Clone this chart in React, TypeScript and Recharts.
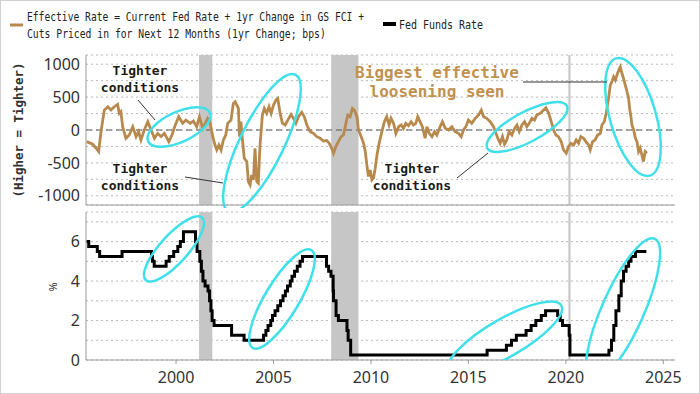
import React from "react";
import {
  LineChart,
  Line,
  XAxis,
  YAxis,
  CartesianGrid,
  ReferenceArea,
  ReferenceLine,
} from "recharts";

// Effective rate (bps)
const effYears = [
  1995.42, 1995.72, 1995.9, 1996.03, 1996.15, 1996.32, 1996.5, 1996.66, 1996.83, 1997.0,
  1997.09, 1997.17, 1997.26, 1997.43, 1997.6, 1997.78, 1997.95, 1998.08, 1998.2, 1998.37,
  1998.55, 1998.72, 1998.89, 1999.06, 1999.23, 1999.4, 1999.63, 1999.79, 1999.96, 2000.14,
  2000.34, 2000.51, 2000.72, 2000.89, 2001.06, 2001.2, 2001.37, 2001.54, 2001.62, 2001.72,
  2001.83, 2001.97, 2002.09, 2002.2, 2002.31, 2002.43, 2002.55, 2002.65, 2002.82, 2002.94,
  2003.03, 2003.12, 2003.2, 2003.25, 2003.33, 2003.4, 2003.5, 2003.63, 2003.71, 2003.8,
  2003.88, 2003.97, 2004.05, 2004.14, 2004.22, 2004.31, 2004.43, 2004.53, 2004.65, 2004.77,
  2004.88, 2005.0, 2005.12, 2005.22, 2005.34, 2005.46, 2005.6, 2005.73, 2005.9, 2006.02,
  2006.15, 2006.28, 2006.45, 2006.58, 2006.71, 2006.88, 2007.05, 2007.22, 2007.39, 2007.56,
  2007.73, 2007.85, 2007.99, 2008.08, 2008.2, 2008.33, 2008.47, 2008.59, 2008.68, 2008.81,
  2008.93, 2009.05, 2009.15, 2009.28, 2009.36, 2009.5, 2009.62, 2009.71, 2009.79, 2009.87,
  2009.96, 2010.05, 2010.13, 2010.22, 2010.31, 2010.42, 2010.56, 2010.69, 2010.81, 2010.93,
  2011.03, 2011.16, 2011.28, 2011.42, 2011.55, 2011.67, 2011.79, 2011.93, 2012.06, 2012.18,
  2012.3, 2012.4, 2012.52, 2012.64, 2012.78, 2012.87, 2012.99, 2013.13, 2013.26, 2013.38,
  2013.55, 2013.67, 2013.81, 2013.98, 2014.15, 2014.32, 2014.49, 2014.63, 2014.75, 2014.87,
  2015.0, 2015.17, 2015.35, 2015.52, 2015.66, 2015.78, 2015.94, 2016.12, 2016.29, 2016.41,
  2016.51, 2016.63, 2016.75, 2016.85, 2016.97, 2017.09, 2017.23, 2017.37, 2017.49, 2017.61,
  2017.75, 2017.88, 2018.0, 2018.12, 2018.26, 2018.39, 2018.51, 2018.69, 2018.86, 2018.98,
  2019.12, 2019.25, 2019.37, 2019.49, 2019.62, 2019.76, 2019.88, 2020.02, 2020.14, 2020.26,
  2020.4, 2020.53, 2020.65, 2020.77, 2020.91, 2021.05, 2021.17, 2021.25, 2021.37, 2021.5,
  2021.63, 2021.77, 2021.85, 2021.97, 2022.07, 2022.19, 2022.28, 2022.36, 2022.45, 2022.54,
  2022.62, 2022.71, 2022.79, 2022.88, 2022.96, 2023.05, 2023.14, 2023.22, 2023.27, 2023.34,
  2023.39, 2023.48, 2023.57, 2023.65, 2023.73, 2023.81, 2023.9, 2023.98, 2024.07, 2024.16,
];
const effValues = [
  -177, -217, -277, -328, -25, 303, 354, 303, 354, 389,
  253, 278, 51, -126, -76, 51, -101, -25, -152, 0,
  126, 0, -126, -51, -101, -51, -177, -76, 76, 202,
  101, 151, 101, 136, 51, 202, 25, 126, 177, 140,
  -25, -202, -303, -227, -303, -152, -76, 101, 151, 404,
  429, 379, 328, -101, 126, -126, -429, -480, -783, -833,
  -682, -758, -277, -783, -808, -227, 227, 328, 253, 354,
  253, 379, 455, 480, 253, 101, 76, 151, 237, 177,
  101, 202, 268, 202, 76, -25, -51, -101, -126, -167,
  -160, -200, -277, -353, -252, -177, -101, -76, 51, 227,
  202, 328, 303, 202, 0, -101, -202, -328, -530, -707,
  -606, -758, -732, -580, -379, -202, -25, 126, 202, 76,
  177, 101, -51, 51, 76, 25, 101, 65, 126, 76,
  101, 202, 126, 51, -126, 51, -51, -101, -25, -76,
  51, 126, 25, 0, 51, -25, -51, -101, 0, 51,
  151, 101, 177, 227, 303, 202, 177, 126, 51, -51,
  -126, -202, -101, -217, -152, -25, -76, 25, 76, -25,
  76, 126, 51, 101, 177, 151, 227, 253, 303, 338,
  253, 126, 0, -76, -101, -177, -303, -353, -252, -202,
  -227, -152, -202, -101, -126, -187, -227, -303, -177, -152,
  -76, -51, 76, 126, 253, 480, 682, 732, 808, 758,
  833, 909, 959, 859, 783, 682, 581, 480, 328, 202,
  76, 0, -126, -177, -328, -277, -379, -480, -328, -353,
];

// Fed funds target (upper bound, %), change dates
const fedYears = [
  1995.4, 1995.52, 1995.96, 1996.08, 1997.23, 1998.74, 1998.79, 1998.88, 1999.49, 1999.65,
  1999.88, 2000.09, 2000.22, 2000.38, 2001.0, 2001.08, 2001.22, 2001.3, 2001.38, 2001.49,
  2001.64, 2001.72, 2001.79, 2001.85, 2001.95, 2002.85, 2003.49, 2004.49, 2004.61, 2004.72,
  2004.86, 2004.95, 2005.08, 2005.22, 2005.36, 2005.49, 2005.61, 2005.72, 2005.86, 2005.95,
  2006.08, 2006.22, 2006.36, 2006.49, 2007.72, 2007.83, 2007.95, 2008.06, 2008.08, 2008.21,
  2008.33, 2008.77, 2008.83, 2008.96, 2015.96, 2016.95, 2017.21, 2017.46, 2017.96, 2018.22,
  2018.46, 2018.74, 2018.96, 2019.58, 2019.71, 2019.83, 2020.17, 2020.21, 2022.21, 2022.34,
  2022.46, 2022.57, 2022.72, 2022.84, 2022.96, 2023.09, 2023.22, 2023.34, 2023.57, 2024.13,
];
const fedRates = [
  6.0, 5.75, 5.5, 5.25, 5.5, 5.25, 5.0, 4.75, 5.0, 5.25,
  5.5, 5.75, 6.0, 6.5, 6.0, 5.5, 5.0, 4.5, 4.0, 3.75,
  3.5, 3.0, 2.5, 2.0, 1.75, 1.25, 1.0, 1.25, 1.5, 1.75,
  2.0, 2.25, 2.5, 2.75, 3.0, 3.25, 3.5, 3.75, 4.0, 4.25,
  4.5, 4.75, 5.0, 5.25, 4.75, 4.5, 4.25, 3.5, 3.0, 2.25,
  2.0, 1.5, 1.0, 0.25, 0.5, 0.75, 1.0, 1.25, 1.5, 1.75,
  2.0, 2.25, 2.5, 2.25, 2.0, 1.75, 1.25, 0.25, 0.5, 1.0,
  1.75, 2.5, 3.25, 4.0, 4.5, 4.75, 5.0, 5.25, 5.5, 5.5,
];

const recessionStarts = [2001.18, 2007.96, 2020.13];
const recessionEnds = [2001.86, 2009.36, 2020.24];
const xTicks = [2000, 2005, 2010, 2015, 2020, 2025];
const effTicks = [-1000, -750, -500, -250, 0, 250, 500, 750, 1000];
const fedTicks = [0, 1, 2, 3, 4, 5, 6, 7];

const effData = effYears.map((year, i) => ({ year, value: effValues[i] }));
const fedData = fedYears.map((year, i) => ({ year, rate: fedRates[i] }));

const X_DOMAIN: [number, number] = [1995.38, 2025.6];
const BROWN = "#b8894d";
const CYAN = "#3fe0ea";
const AXIS = "#9a9a9a";
const tickStyle = { fontSize: 16, fill: "#333", fontFamily: "Noto Sans" };
const mono = "DejaVu Sans Mono";

const Recessions = () =>
  recessionStarts.map((s, i) => (
    <ReferenceArea
      key={i}
      x1={s}
      x2={recessionEnds[i]}
      fill="#c6c6c6"
      fillOpacity={1}
      stroke="none"
    />
  ));

export default function App() {
  return (
    <div
      style={{
        position: "absolute",
        left: 0,
        top: 0,
        width: 700,
        height: 394,
        background: "#fff",
        overflow: "hidden",
      }}
    >
      {/* upper panel */}
      <div style={{ position: "absolute", left: 0, top: 0 }}>
        <LineChart
          width={700}
          height={210}
          data={effData}
          margin={{ top: 55, right: 25, bottom: 0, left: 0 }}
        >
          <CartesianGrid vertical={false} stroke="#b8b8b8" strokeDasharray="2 3" />
          {Recessions()}
          <ReferenceLine y={0} stroke="#555" strokeDasharray="6 4" />
          <XAxis
            dataKey="year"
            type="number"
            domain={X_DOMAIN}
            allowDataOverflow
            ticks={xTicks}
            tick={false}
            tickLine={false}
            height={5}
            axisLine={{ stroke: AXIS }}
          />
          <YAxis
            type="number"
            domain={[-1140, 1140]}
            ticks={effTicks}
            interval={0}
            tickFormatter={(v: number) => (v % 500 === 0 ? String(v) : "")}
            width={86}
            tickLine={false}
            tickSize={0}
            tickMargin={6}
            axisLine={{ stroke: AXIS }}
            tick={tickStyle}
          />
          <Line
            type="linear"
            dataKey="value"
            stroke={BROWN}
            strokeWidth={2.8}
            dot={false}
            isAnimationActive={false}
          />
        </LineChart>
      </div>

      {/* lower panel */}
      <div style={{ position: "absolute", left: 0, top: 205 }}>
        <LineChart
          width={700}
          height={189}
          data={fedData}
          margin={{ top: 7, right: 25, bottom: 0, left: 0 }}
        >
          <CartesianGrid vertical={false} stroke="#b8b8b8" strokeDasharray="2 3" />
          {Recessions()}
          <XAxis
            dataKey="year"
            type="number"
            domain={X_DOMAIN}
            allowDataOverflow
            ticks={xTicks}
            interval={0}
            height={34}
            tickSize={4}
            tickMargin={8}
            axisLine={{ stroke: AXIS }}
            tickLine={{ stroke: AXIS }}
            tick={tickStyle}
          />
          <YAxis
            type="number"
            domain={[0, 7.5]}
            ticks={fedTicks}
            interval={0}
            tickFormatter={(v: number) => (v % 2 === 0 ? String(v) : "")}
            width={86}
            tickLine={false}
            tickSize={0}
            tickMargin={6}
            axisLine={{ stroke: AXIS }}
            tick={tickStyle}
          />
          <Line
            type="stepAfter"
            dataKey="rate"
            stroke="#000"
            strokeWidth={3}
            dot={false}
            isAnimationActive={false}
          />
        </LineChart>
      </div>

      {/* legend, labels and annotations */}
      <svg
        width={700}
        height={394}
        style={{ position: "absolute", left: 0, top: 0, pointerEvents: "none" }}
      >
        <defs>
          <clipPath id="clipTop">
            <rect x={86} y={50} width={600} height={158} />
          </clipPath>
          <clipPath id="clipBottom">
            <rect x={86} y={208} width={600} height={152} />
          </clipPath>
        </defs>
        <rect x={0.5} y={0.5} width={699} height={393} fill="none" stroke="#d0d0d0" />

        {/* legend: condensed mono text */}
        <line x1={10} x2={23} y1={25} y2={25} stroke={BROWN} strokeWidth={3} />
        <g fontFamily={mono} fontSize={12.5} fill="#222">
          <text transform="translate(27,21) scale(0.773,1)">
            Effective Rate = Current Fed Rate + 1yr Change in GS FCI +
          </text>
          <text transform="translate(27,38) scale(0.78,1)">
            Cuts Priced in for Next 12 Months (1yr Change; bps)
          </text>
          <text transform="translate(399,28.5) scale(0.8,1)">Fed Funds Rate</text>
        </g>
        <line x1={383} x2={396} y1={24} y2={24} stroke="#000" strokeWidth={4} />

        {/* axis titles */}
        <text
          transform="translate(23,130) rotate(-90) scale(0.96,1)"
          textAnchor="middle"
          fontFamily={mono}
          fontWeight="bold"
          fontSize={13}
          fill="#333"
        >
          (Higher = Tighter)
        </text>
        <text transform="translate(57,287) rotate(-90)" textAnchor="middle" fontFamily="Noto Sans" fontSize={11} fill="#333">
          %
        </text>

        {/* ellipses */}
        <g fill="none" stroke={CYAN} strokeWidth={2.5}>
          <g clipPath="url(#clipTop)">
            <ellipse cx={179} cy={127} rx={34} ry={15} transform="rotate(-25 179 127)" />
            <ellipse cx={262} cy={143} rx={76} ry={22} transform="rotate(-64 262 143)" />
            <ellipse cx={527} cy={127} rx={45} ry={15} transform="rotate(-28 527 127)" />
            <ellipse cx={633} cy={117} rx={61} ry={23} transform="rotate(74 633 117)" />
          </g>
          <g clipPath="url(#clipBottom)">
            <ellipse cx={174} cy={249} rx={42} ry={14} transform="rotate(-48 174 249)" />
            <ellipse cx={282} cy={299} rx={57} ry={17} transform="rotate(-59 282 299)" />
            <ellipse cx={505} cy={338} rx={65} ry={19} transform="rotate(-30 505 338)" />
            <ellipse cx={623} cy={310} rx={78} ry={21} transform="rotate(-66 623 310)" />
          </g>
        </g>

        {/* leader lines */}
        <g stroke="#333" strokeWidth={1}>
          <line x1={138} y1={100} x2={155} y2={120} />
          <line x1={185} y1={177} x2={223} y2={183} />
          <line x1={457} y1={178} x2={488} y2={153} />
          <line x1={523} y1={82} x2={607} y2={82} />
        </g>

        {/* annotation text */}
        <g fontFamily={mono} fontSize={13} fontWeight="bold" fill="#1a1a1a" textAnchor="middle">
          <text x={140} y={75}>Tighter</text>
          <text x={140} y={92}>conditions</text>
          <text x={140} y={173}>Tighter</text>
          <text x={140} y={190}>conditions</text>
          <text x={412} y={173}>Tighter</text>
          <text x={412} y={190}>conditions</text>
        </g>
        <g fontFamily={mono} fontSize={16} fontWeight="bold" fill="#c0914f" textAnchor="middle">
          <text x={437} y={78}>Biggest effective</text>
          <text x={437} y={97}>loosening seen</text>
        </g>
      </svg>
    </div>
  );
}
